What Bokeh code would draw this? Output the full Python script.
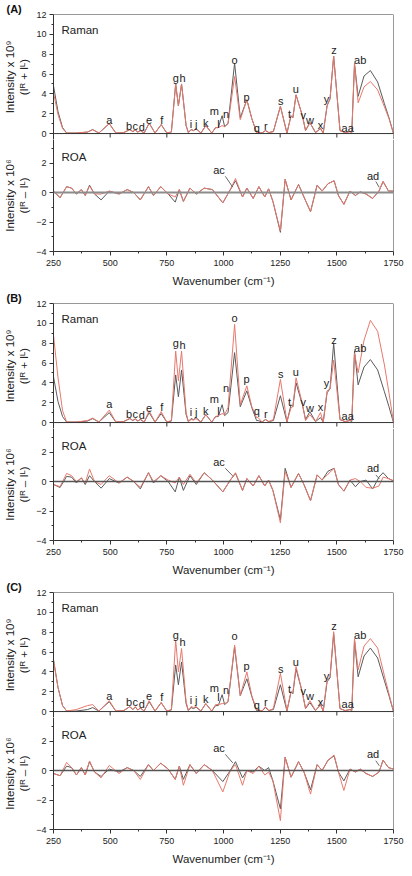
from bokeh.plotting import figure
from bokeh.layouts import column
from bokeh.models import Range1d, FixedTicker, Span, Label
from bokeh.embed import file_html
from bokeh.resources import INLINE
from bokeh.core.properties import value

FONT = "Liberation Sans"
AX = "#333333"
TXT = "#222222"
BLACK_LINE = "#5a5a5a"
RED_LINE = "#e8786c"

# ---------------- data ----------------
x_ticks = [250, 500, 750, 1000, 1250, 1500, 1750]
x_minor = [375, 625, 875, 1125, 1375, 1625]
raman_ticks = [0, 2, 4, 6, 8, 10, 12]
raman_minor = [1, 3, 5, 7, 9, 11]
roa_ticks = [-4, -2, 0, 2]
roa_minor = [-3, -1, 1, 3]

raman_x = [250, 270, 290, 308, 350, 400, 423, 450, 496, 525, 560, 587, 600, 611, 622, 633, 650,
           672, 698, 725, 750, 770, 789, 801, 815, 835, 845, 857, 868, 879, 900, 922, 948, 965,
           977, 994, 1005, 1020, 1049, 1074, 1103, 1125, 1146, 1153, 1170, 1185, 1200, 1220,
           1251, 1280, 1298, 1306, 1320, 1348, 1362, 1381, 1406, 1428, 1440, 1457, 1470, 1486,
           1514, 1536, 1558, 1566, 1578, 1594, 1620, 1648, 1680, 1710, 1730, 1750]

raman_A_black = [4.8, 2.2, 0.6, 0.05, 0.05, 0.15, 0.4, 0.05, 1.0, 0.05, 0.1, 0.4, 0.2, 0.35, 0.15, 0.3, 0.05,
                 1.05, 0.05, 0.9, 0.05, 0.15, 5.0, 2.8, 5.0, 0.8, 0.1, 0.4, 0.3, 0.5, 0.05, 0.8, 0.05, 0.6,
                 0.6, 1.8, 0.7, 1.0, 7.1, 1.6, 3.4, 1.5, 0.1, 0.15, 0.05, 0.3, 0.1, 0.2,
                 2.75, 0.05, 1.8, 1.6, 3.9, 1.8, 0.3, 1.1, 0.1, 0.5, 0.05, 2.8, 3.5, 7.8,
                 0.3, 0.1, 0.2, 0.1, 7.05, 3.75, 5.8, 6.35, 5.2, 3.0, 1.6, 0.0]
raman_A_red = [4.1, 1.9, 0.5, 0.05, 0.05, 0.15, 0.4, 0.05, 1.0, 0.05, 0.1, 0.4, 0.2, 0.35, 0.15, 0.3, 0.05,
               1.05, 0.05, 0.9, 0.05, 0.15, 5.0, 2.8, 5.0, 0.8, 0.1, 0.4, 0.3, 0.5, 0.05, 0.8, 0.05, 0.6,
               0.6, 0.8, 0.7, 1.0, 5.75, 1.4, 3.4, 1.5, 0.1, 0.15, 0.05, 0.3, 0.1, 0.2,
               2.75, 0.05, 1.8, 1.6, 3.9, 1.8, 0.3, 1.1, 0.1, 0.5, 0.05, 2.8, 3.5, 7.8,
               0.3, 0.1, 0.2, 0.1, 7.05, 3.1, 4.7, 5.25, 4.4, 2.7, 1.5, 0.0]
raman_B_black = [4.6, 2.1, 0.6, 0.05, 0.05, 0.15, 0.4, 0.05, 1.0, 0.05, 0.1, 0.4, 0.2, 0.35, 0.15, 0.3, 0.05,
                 1.0, 0.05, 0.9, 0.05, 0.15, 4.8, 2.6, 5.3, 0.8, 0.1, 0.4, 0.3, 0.5, 0.05, 0.8, 0.05, 0.6,
                 0.6, 1.8, 0.7, 1.0, 7.05, 1.6, 3.2, 1.5, 0.2, 0.2, 0.05, 0.3, 0.1, 0.2,
                 2.7, 0.05, 1.8, 1.6, 4.0, 1.8, 0.3, 1.1, 0.1, 0.5, 0.05, 3.0, 3.4, 8.0,
                 0.3, 0.1, 0.2, 0.1, 7.2, 3.8, 5.6, 6.35, 5.3, 3.1, 1.6, 0.0]
raman_B_red = [8.8, 4.5, 1.2, 0.05, 0.05, 0.2, 0.45, 0.05, 1.25, 0.05, 0.1, 0.45, 0.2, 0.4, 0.15, 0.35, 0.05,
               1.2, 0.05, 1.1, 0.05, 0.2, 7.2, 4.2, 7.2, 1.0, 0.1, 0.3, 0.25, 0.4, 0.05, 0.8, 0.05, 0.6,
               0.7, 0.9, 0.8, 1.5, 9.9, 1.8, 3.7, 1.6, 0.5, 0.5, 0.05, 0.3, 0.1, 0.3,
               4.35, 0.1, 1.5, 1.6, 4.5, 1.9, 0.2, 0.8, 0.1, 1.0, 0.05, 3.2, 3.4, 6.3,
               0.3, 0.1, 0.2, 0.2, 7.0, 5.0, 8.3, 10.3, 9.2, 5.8, 3.0, 0.0]
raman_C_black = [5.2, 2.4, 0.6, 0.05, 0.05, 0.2, 0.4, 0.05, 1.0, 0.05, 0.1, 0.5, 0.2, 0.45, 0.15, 0.35, 0.05,
                 1.0, 0.05, 0.9, 0.05, 0.15, 4.7, 2.7, 5.0, 0.8, 0.1, 0.4, 0.3, 0.45, 0.05, 0.8, 0.05, 0.6,
                 0.6, 1.7, 0.7, 1.0, 6.5, 1.6, 3.3, 1.5, 0.1, 0.15, 0.05, 0.4, 0.1, 0.2,
                 2.7, 0.05, 2.0, 1.8, 4.3, 1.9, 0.3, 0.9, 0.1, 0.7, 0.05, 3.0, 3.4, 7.85,
                 0.3, 0.1, 0.2, 0.1, 7.2, 3.5, 5.6, 6.4, 5.4, 3.1, 1.6, 0.0]
raman_C_red = [5.2, 2.4, 0.6, 0.05, 0.2, 0.6, 0.7, 0.05, 1.1, 0.05, 0.1, 0.5, 0.2, 0.5, 0.15, 0.4, 0.05,
               1.1, 0.05, 0.9, 0.05, 0.2, 7.2, 4.0, 6.35, 1.0, 0.1, 0.5, 0.4, 0.5, 0.05, 0.8, 0.05, 0.7,
               0.7, 0.8, 0.8, 1.0, 6.7, 1.6, 4.0, 1.6, 0.2, 0.2, 0.05, 0.5, 0.1, 0.3,
               3.85, 0.1, 2.0, 1.9, 4.55, 1.9, 0.3, 1.1, 0.1, 0.7, 0.05, 3.2, 3.5, 8.05,
               0.3, 0.1, 0.2, 0.1, 7.35, 4.2, 6.6, 7.35, 6.4, 3.6, 1.8, 0.0]

roa_x = [250, 279, 308, 330, 351, 373, 390, 409, 431, 460, 496, 539, 575, 604, 633, 669, 691, 723, 756,
         787, 805, 823, 852, 880, 915, 951, 997, 1030, 1053, 1084, 1103, 1131, 1156, 1182, 1199, 1218,
         1251, 1272, 1298, 1331, 1355, 1384, 1413, 1435, 1461, 1488, 1507, 1531, 1558, 1582, 1603,
         1629, 1658, 1686, 1704, 1728, 1750]

roa_A_black = [0.1, -0.35, 0.4, 0.3, -0.1, 0.2, -0.2, 0.5, -0.1, -0.5, 0.1, -0.1, 0.2, 0.0, -0.5, 0.4, -0.2, 0.4, -0.1,
               -0.65, 0.2, -0.6, 0.3, -0.1, 0.3, 0.2, -0.7, 0.2, 0.8, -0.3, 0.3, -0.4, 0.4, -0.3, 0.25, -0.6,
               -2.7, 0.9, -0.5, 0.55, -0.3, -1.3, 0.5, 0.1, 0.6, 0.8, -0.2, -0.8, 0.1, -0.2, 0.05,
               -0.1, -0.4, 0.1, 0.75, 0.1, 0.1]
roa_A_red = [0.1, -0.35, 0.4, 0.3, -0.1, 0.2, -0.2, 0.45, -0.1, -0.1, 0.1, -0.1, 0.2, 0.0, -0.5, 0.4, -0.2, 0.4, -0.1,
             -0.3, 0.2, -0.6, 0.3, -0.1, 0.3, 0.2, -0.7, 0.2, 0.95, -0.3, 0.3, -0.4, 0.4, -0.3, 0.25, -0.6,
             -2.6, 0.9, -0.5, 0.55, -0.3, -1.3, 0.5, 0.1, 0.6, 0.8, -0.2, -0.8, 0.1, -0.2, 0.05,
             -0.1, -0.4, 0.1, 0.75, 0.1, 0.1]
roa_B_black = [-0.2, -0.4, 0.35, 0.3, -0.1, 0.25, -0.2, 0.4, 0.0, -0.45, 0.2, -0.1, 0.3, 0.0, -0.5, 0.6, -0.1, 0.4, 0.0,
               -0.7, 0.3, -0.6, 0.4, -0.2, 0.6, 0.1, -0.7, 0.1, 0.55, -0.6, 0.2, -0.3, 0.4, -0.3, 0.1, -0.6,
               -2.6, 0.9, -0.4, 0.55, -0.2, -1.3, 0.45, 0.1, 0.7, 0.9, -0.2, -0.65, 0.1, -0.35, 0.0,
               0.1, -0.5, 0.3, 0.6, 0.2, 0.05]
roa_B_red = [-0.2, -0.35, 0.55, 0.4, 0.0, 0.25, -0.1, 0.85, 0.0, -0.2, 0.4, -0.1, 0.3, 0.0, -0.4, 0.6, 0.0, 0.4, 0.1,
             -0.1, 0.3, -0.2, 0.5, -0.1, 0.6, 0.1, -0.7, 0.1, 0.6, -0.6, 0.2, -0.3, 0.4, -0.3, 0.1, -0.6,
             -2.8, 0.7, -0.4, 0.55, -0.2, -1.3, 0.45, 0.1, 0.5, 0.9, -0.2, -0.65, 0.1, 0.2, 0.0,
             -0.4, -0.45, -0.3, 0.3, 0.2, 0.05]
roa_C_black = [-0.2, -0.35, 0.3, 0.2, -0.3, 0.2, -0.3, 0.6, -0.1, -0.4, 0.1, -0.1, 0.2, 0.0, -0.4, 0.4, 0.0, 0.5, 0.1,
               -0.6, 0.3, -0.6, 0.4, -0.2, 0.4, 0.0, -0.75, 0.0, 0.6, -0.5, 0.0, -0.1, 0.3, 0.0, 0.2, -0.7,
               -2.6, 0.9, -0.45, 0.6, -0.1, -1.3, 0.4, 0.0, 0.7, 1.0, -0.1, -0.7, 0.1, -0.1, 0.1,
               -0.2, -0.4, -0.1, 0.7, 0.2, 0.1]
roa_C_red = [-0.2, -0.35, 0.55, 0.2, -0.3, 0.2, -0.3, 0.65, -0.1, -0.5, 0.35, -0.2, 0.2, 0.0, -0.6, 0.4, 0.0, 0.5, 0.1,
             -0.6, 0.3, -1.0, 0.4, -0.2, 0.4, 0.0, -1.45, 0.0, 0.4, -1.0, 0.0, -0.2, 0.3, -0.3, -0.1, -0.7,
             -3.4, 0.9, -0.45, 0.6, -0.1, -1.6, 0.4, 0.0, 0.7, 1.05, -0.1, -1.35, 0.1, -0.1, 0.1,
             -0.2, -0.4, -0.1, 0.7, 0.2, 0.1]

peak_text = ["a", "b", "c", "d", "e", "f", "g", "h", "i", "j", "k", "l", "m", "n", "o", "p", "q", "r",
             "s", "t", "u", "v", "w", "x", "y", "z", "aa", "ab"]
peak_x = [496, 583, 611, 640, 672, 728, 790, 819, 857, 880, 922, 978, 959, 1011, 1049, 1102, 1147, 1187,
          1253, 1291, 1319, 1352, 1382, 1428, 1454, 1488, 1548, 1603]
peak_y_A = [1.35, 0.8, 0.8, 0.7, 1.4, 1.4, 5.55, 5.55, 0.95, 0.95, 1.05, 0.95, 2.3, 1.95, 7.4, 3.7, 0.55, 0.75,
            3.25, 1.95, 4.5, 1.85, 1.4, 0.85, 3.45, 8.45, 0.55, 7.45]
peak_y_B = [1.9, 0.85, 0.85, 0.75, 1.5, 1.55, 8.0, 7.8, 1.05, 1.05, 1.15, 1.15, 2.35, 3.45, 10.5, 4.35, 1.15, 0.85,
            4.85, 2.05, 5.1, 2.1, 1.5, 1.55, 3.95, 8.35, 0.65, 7.55]
peak_y_C = [1.55, 0.95, 0.95, 0.75, 1.6, 1.5, 7.75, 7.0, 1.15, 1.15, 1.25, 1.5, 2.4, 2.15, 7.6, 4.55, 0.65, 0.95,
            4.25, 2.25, 5.0, 2.1, 1.55, 0.95, 3.55, 8.6, 0.75, 7.75]

roa_text = ["ac", "ad"]
roa_lab_x = [980, 1660]
roa_lab_y_A = [1.5, 1.15]
roa_lab_y_B = [1.33, 0.9]
roa_lab_y_C = [1.5, 1.1]
# leader lines (label -> band)
lead_x0 = [1008, 1672]
lead_x1 = [1041, 1687]
lead_A = ([1.1, 0.75], [0.36, 0.35])
lead_B = ([0.9, 0.45], [0.38, 0.2])
lead_C = ([1.1, 0.67], [0.52, 0.33])

for arr in (raman_A_black, raman_A_red, raman_B_black, raman_B_red, raman_C_black, raman_C_red):
    assert len(arr) == len(raman_x), len(arr)
for arr in (roa_A_black, roa_A_red, roa_B_black, roa_B_red, roa_C_black, roa_C_red):
    assert len(arr) == len(roa_x), len(arr)

# ---------------- layout ----------------
W = 404
LEFT = 47
RIGHT = 11
TITLE_H = 13
RAMAN_RANGE = (-0.6, 12)     # 10 px per unit, small pad below 0 for the "0" label
ROA_RANGE = (-4, 3.6)        # 15 px per unit; top continues the pad of the Raman half
RAMAN_FRAME = 126
ROA_FRAME = 114
BOTTOM = 36


def style_axis(ax):
    ax.axis_line_color = AX
    ax.major_tick_line_color = AX
    ax.minor_tick_line_color = AX
    ax.major_tick_out = 4
    ax.major_tick_in = 0
    ax.minor_tick_out = 2
    ax.minor_tick_in = 0
    ax.major_label_text_font = FONT
    ax.major_label_text_font_size = "9px"
    ax.major_label_text_color = TXT
    ax.major_label_standoff = 3
    ax.axis_label_text_font = FONT
    ax.axis_label_text_font_size = "11.5px"
    ax.axis_label_text_font_style = "normal"
    ax.axis_label_text_color = TXT
    ax.axis_label_standoff = 3


def raman_fig(letter, rb, rr, py):
    p = figure(width=W, height=TITLE_H + RAMAN_FRAME, title="(" + letter + ")",
               x_range=Range1d(250, 1750), y_range=Range1d(*RAMAN_RANGE),
               output_backend="svg", toolbar_location=None,
               min_border_left=LEFT, min_border_right=RIGHT, min_border_top=TITLE_H,
               min_border_bottom=0)
    p.title.text_font = FONT
    p.title.text_font_size = "11px"
    p.title.text_font_style = "bold"
    p.title.text_color = "#111111"
    p.title.align = "left"
    p.title.offset = -LEFT
    p.title.standoff = 0
    p.xgrid.visible = False
    p.ygrid.visible = False
    p.xaxis.visible = False
    p.outline_line_color = None
    ay = p.yaxis[0]
    style_axis(ay)
    ay.ticker = FixedTicker(ticks=raman_ticks, minor_ticks=raman_minor)
    ay.axis_label = "Intensity x 10\u2079\n(I\u1d3f + I\u1d38)"

    # frame edges: top, right, and the Raman/ROA separator with its tick marks
    p.add_layout(Span(location=RAMAN_RANGE[1], dimension="width", line_color=AX, line_width=1))
    p.add_layout(Span(location=1750, dimension="height", line_color=AX, line_width=1))
    p.add_layout(Span(location=0, dimension="width", line_color=AX, line_width=1))
    inner = x_ticks[1:-1]
    p.segment(x0=inner, y0=[0] * len(inner), x1=inner, y1=[-0.4] * len(inner),
              line_color=AX, line_width=1)

    p.line(raman_x, rb, line_color=BLACK_LINE, line_width=1)
    p.line(raman_x, rr, line_color=RED_LINE, line_width=1)
    p.text(x=peak_x, y=py, text=peak_text, text_font=value(FONT), text_font_size="11px",
           text_align="center", text_baseline="middle", text_color=TXT)
    p.add_layout(Label(x=285, y=10.45, text="Raman", text_font=FONT, text_font_size="11.5px",
                       text_baseline="middle", text_color=TXT))
    return p


def roa_fig(ob, orr, ry, lead, bottom, zero_color, zero_w):
    p = figure(width=W, height=ROA_FRAME + bottom,
               x_range=Range1d(250, 1750), y_range=Range1d(*ROA_RANGE),
               output_backend="svg", toolbar_location=None,
               min_border_left=LEFT, min_border_right=RIGHT, min_border_top=0,
               min_border_bottom=bottom)
    p.xgrid.visible = False
    p.ygrid.visible = False
    p.outline_line_color = None

    ay = p.yaxis[0]
    style_axis(ay)
    ay.ticker = FixedTicker(ticks=roa_ticks, minor_ticks=roa_minor)
    ay.axis_label = "Intensity x 10\u2076\n(I\u1d3f \u2013 I\u1d38)"

    ax = p.xaxis[0]
    style_axis(ax)
    ax.ticker = FixedTicker(ticks=x_ticks, minor_ticks=x_minor)
    ax.major_label_standoff = 4
    ax.axis_label = "Wavenumber (cm\u207b\u00b9)"
    ax.axis_label_standoff = 6

    p.add_layout(Span(location=1750, dimension="height", line_color=AX, line_width=1))
    p.add_layout(Span(location=0, dimension="width", line_color=zero_color, line_width=zero_w))
    p.line(roa_x, ob, line_color=BLACK_LINE, line_width=1)
    p.line(roa_x, orr, line_color=RED_LINE, line_width=1)
    p.text(x=roa_lab_x, y=ry, text=roa_text, text_font=value(FONT), text_font_size="11px",
           text_align="center", text_baseline="middle", text_color=TXT)
    p.segment(x0=lead_x0, y0=lead[0], x1=lead_x1, y1=lead[1], line_color="#444444", line_width=0.8)
    p.add_layout(Label(x=285, y=2.4, text="ROA", text_font=FONT, text_font_size="11.5px",
                       text_baseline="middle", text_color=TXT))
    return p


panels = []
panels.append(raman_fig("A", raman_A_black, raman_A_red, peak_y_A))
panels.append(roa_fig(roa_A_black, roa_A_red, roa_lab_y_A, lead_A, BOTTOM, "#8c8c8c", 2))
panels.append(raman_fig("B", raman_B_black, raman_B_red, peak_y_B))
panels.append(roa_fig(roa_B_black, roa_B_red, roa_lab_y_B, lead_B, BOTTOM, "#555555", 1.5))
panels.append(raman_fig("C", raman_C_black, raman_C_red, peak_y_C))
panels.append(roa_fig(roa_C_black, roa_C_red, roa_lab_y_C, lead_C, BOTTOM, "#555555", 1.5))

layout = column(*panels, spacing=0)
open("out.html", "w").write(file_html(layout, INLINE))
